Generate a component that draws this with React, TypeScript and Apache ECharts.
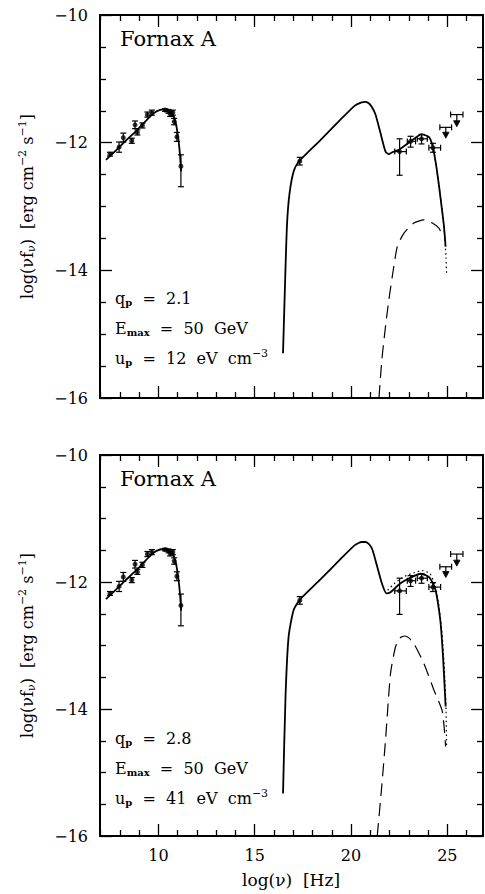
import React, { useEffect, useRef } from "react";
import * as echarts from "echarts";

// ---------- data ----------
const radioX = [7.49, 7.96, 8.18, 8.62, 8.79, 8.91, 9.17, 9.43, 9.66, 10.35, 10.53, 10.61, 10.75, 10.82, 10.96, 11.17];
const radioY = [-12.18, -12.07, -11.92, -11.97, -11.72, -11.84, -11.73, -11.56, -11.53, -11.49, -11.51, -11.55, -11.53, -11.67, -11.91, -12.37];
const radioErrUp = [0.03, 0.08, 0.07, 0.04, 0.06, 0.04, 0.04, 0.04, 0.04, 0.02, 0.03, 0.04, 0.04, 0.05, 0.07, 0.18];
const radioErrDown = [0.03, 0.08, 0.07, 0.04, 0.06, 0.04, 0.04, 0.04, 0.04, 0.02, 0.03, 0.04, 0.04, 0.05, 0.07, 0.32];

const xrayX = [17.34];
const xrayY = [-12.29];
const xrayErr = [0.06];

const gammaX = [22.52, 23.09, 23.66, 24.25];
const gammaY = [-12.14, -11.98, -11.94, -12.08];
const gammaYLo = [-12.51, -12.07, -12.02, -12.15];
const gammaYHi = [-11.94, -11.9, -11.87, -12.01];
const gammaXLo = [22.27, 22.92, 23.44, 24.04];
const gammaXHi = [22.87, 23.35, 23.96, 24.65];

const ulX = [24.92, 25.49];
const ulY = [-11.76, -11.56];
const ulXLo = [24.61, 25.17];
const ulXHi = [25.22, 25.81];
const ulArrowEnd = [-11.93, -11.75];

const radioCurveX = [7.28, 7.8, 8.3, 8.8, 9.22, 9.6, 9.9, 10.26, 10.55, 10.75, 10.88, 10.98, 11.06, 11.13, 11.18];
const radioCurveY = [-12.27, -12.12, -11.97, -11.83, -11.7, -11.58, -11.51, -11.48, -11.5, -11.56, -11.66, -11.82, -12.0, -12.22, -12.45];

const icTopX = [16.47, 16.59, 16.68, 16.81, 17.02, 17.28, 18.41, 19.45, 20.2, 20.55, 20.75, 20.95, 21.12, 21.27, 21.53, 21.79, 21.96, 22.14, 22.48, 23.09, 23.66, 24.04, 24.22, 24.39, 24.56, 24.7, 24.82, 24.91];
const icTopY = [-15.3, -14.05, -13.26, -12.79, -12.45, -12.3, -11.96, -11.64, -11.42, -11.37, -11.36, -11.39, -11.46, -11.56, -11.85, -12.14, -12.18, -12.15, -12.11, -11.98, -11.87, -11.91, -12.04, -12.3, -12.66, -13.0, -13.3, -13.63];
const pionTopX = [21.45, 21.6, 21.8, 21.96, 22.14, 22.4, 22.74, 23.26, 23.78, 24.22, 24.56, 24.7];
const pionTopY = [-16.0, -15.4, -14.85, -14.47, -14.1, -13.63, -13.42, -13.26, -13.21, -13.26, -13.34, -13.42];
const totalTopX = [24.3, 24.45, 24.6, 24.75, 24.87, 24.93, 24.96];
const totalTopY = [-12.12, -12.42, -12.75, -13.1, -13.5, -13.8, -14.05];

const icBotX = [16.47, 16.6, 16.76, 17.02, 17.34, 18.41, 19.45, 20.2, 20.55, 20.75, 20.95, 21.12, 21.36, 21.6, 21.84, 22.05, 22.57, 23.1, 23.61, 24.04, 24.25, 24.39, 24.52, 24.65, 24.78, 24.91];
const icBotY = [-15.33, -13.8, -12.86, -12.44, -12.28, -11.96, -11.64, -11.42, -11.37, -11.37, -11.41, -11.5, -11.76, -12.02, -12.18, -12.16, -12.02, -11.93, -11.87, -11.92, -12.02, -12.13, -12.35, -12.65, -13.2, -13.96];
const pionBotX = [21.36, 21.6, 21.79, 22.05, 22.31, 22.55, 22.78, 23.0, 23.26, 23.78, 24.3, 24.74, 24.91];
const pionBotY = [-16.0, -15.2, -14.49, -13.44, -13.02, -12.88, -12.85, -12.88, -12.97, -13.28, -13.7, -14.04, -14.59];
const totalBotX = [21.9, 22.3, 22.8, 23.3, 23.7, 24.1, 24.35, 24.55, 24.72, 24.85, 24.93, 24.96];
const totalBotY = [-12.13, -12.01, -11.91, -11.85, -11.82, -11.87, -12.04, -12.35, -12.8, -13.4, -14.0, -14.6];

const xMajorTicks = [10, 15, 20, 25];
const xMinorTicks = [7, 8, 9, 11, 12, 13, 14, 16, 17, 18, 19, 21, 22, 23, 24, 26];
const yMin = -16;
const yMax = -10;
const yStep = 2;

const panelLabels = [
  { q: "2.1", e: "50", u: "12" },
  { q: "2.8", e: "50", u: "41" },
];

// ---------- layout ----------
const FONT = "DejaVu Serif";
const X_MIN = 6.97;
const X_MAX = 26.85;
const GRIDS = [
  { left: 100, top: 15, width: 383, height: 383 },
  { left: 100, top: 455, width: 383, height: 381 },
];

const zip = (a: number[], b: number[]) => a.map((v, i) => [v, b[i]]);

const STROKE = { stroke: "#000", lineWidth: 1.2 };
const CAP = 3;

function errItem(_params: any, api: any) {
  const x = api.value(0);
  const y = api.value(1);
  const ylo = api.value(2);
  const yhi = api.value(3);
  const xlo = api.value(4);
  const xhi = api.value(5);
  const ch: any[] = [];
  if (yhi !== ylo) {
    const a = api.coord([x, ylo]);
    const b = api.coord([x, yhi]);
    ch.push({ type: "line", shape: { x1: a[0], y1: a[1], x2: b[0], y2: b[1] }, style: STROKE });
    ch.push({ type: "line", shape: { x1: a[0] - CAP, y1: a[1], x2: a[0] + CAP, y2: a[1] }, style: STROKE });
    ch.push({ type: "line", shape: { x1: b[0] - CAP, y1: b[1], x2: b[0] + CAP, y2: b[1] }, style: STROKE });
  }
  if (xhi !== xlo) {
    const a = api.coord([xlo, y]);
    const b = api.coord([xhi, y]);
    ch.push({ type: "line", shape: { x1: a[0], y1: a[1], x2: b[0], y2: b[1] }, style: STROKE });
    ch.push({ type: "line", shape: { x1: a[0], y1: a[1] - CAP, x2: a[0], y2: a[1] + CAP }, style: STROKE });
    ch.push({ type: "line", shape: { x1: b[0], y1: b[1] - CAP, x2: b[0], y2: b[1] + CAP }, style: STROKE });
  }
  return { type: "group", children: ch };
}

function ulItem(_params: any, api: any) {
  const x = api.value(0);
  const y = api.value(1);
  const xlo = api.value(2);
  const xhi = api.value(3);
  const yEnd = api.value(4);
  const a = api.coord([xlo, y]);
  const b = api.coord([xhi, y]);
  const c = api.coord([x, y]);
  const e = api.coord([x, yEnd]);
  return {
    type: "group",
    children: [
      { type: "line", shape: { x1: a[0], y1: a[1], x2: b[0], y2: b[1] }, style: STROKE },
      { type: "line", shape: { x1: a[0], y1: a[1] - CAP, x2: a[0], y2: a[1] + CAP }, style: STROKE },
      { type: "line", shape: { x1: b[0], y1: b[1] - CAP, x2: b[0], y2: b[1] + CAP }, style: STROKE },
      { type: "line", shape: { x1: c[0], y1: c[1], x2: e[0], y2: e[1] - 4 }, style: STROKE },
      {
        type: "polygon",
        shape: { points: [[e[0] - 3.2, e[1] - 6], [e[0] + 3.2, e[1] - 6], [e[0], e[1]]] },
        style: { fill: "#000", stroke: "#000", lineWidth: 0.8 },
      },
    ],
  };
}

function buildOption() {
  const xAxis: any[] = [];
  const yAxis: any[] = [];
  const series: any[] = [];
  const graphic: any[] = [];

  const lineStyleAxis = { color: "#000", width: 2 };
  const tickStyle = { color: "#000", width: 1.3 };

  GRIDS.forEach((_, g) => {
    const base = {
      type: "value",
      gridIndex: g,
      min: X_MIN,
      max: X_MAX,
      splitLine: { show: false },
      axisLabel: { show: false },
    };
    xAxis.push({
      ...base,
      position: "bottom",
      axisLine: { show: true, onZero: false, lineStyle: lineStyleAxis },
      axisTick: { show: true, inside: true, length: 12, customValues: xMajorTicks, lineStyle: tickStyle },
      axisLabel:
        g === 1
          ? { show: true, customValues: xMajorTicks, fontFamily: FONT, fontSize: 16, color: "#000", margin: 11 }
          : { show: false },
    });
    xAxis.push({
      ...base,
      position: "bottom",
      axisLine: { show: false, onZero: false },
      axisTick: { show: true, inside: true, length: 6, customValues: xMinorTicks, lineStyle: tickStyle },
    });
    xAxis.push({
      ...base,
      position: "top",
      axisLine: { show: true, onZero: false, lineStyle: lineStyleAxis },
      axisTick: { show: true, inside: true, length: 12, customValues: xMajorTicks, lineStyle: tickStyle },
    });
    xAxis.push({
      ...base,
      position: "top",
      axisLine: { show: false, onZero: false },
      axisTick: { show: true, inside: true, length: 6, customValues: xMinorTicks, lineStyle: tickStyle },
    });

    const yBase = {
      type: "value",
      gridIndex: g,
      min: yMin,
      max: yMax,
      interval: yStep,
      splitLine: { show: false },
      minorSplitLine: { show: false },
      axisLine: { show: true, onZero: false, lineStyle: lineStyleAxis },
      axisTick: { show: true, inside: true, length: 12, lineStyle: tickStyle },
      minorTick: { show: true, splitNumber: 4, length: 6, lineStyle: tickStyle },
    };
    yAxis.push({
      ...yBase,
      position: "left",
      axisLabel: {
        show: true,
        fontFamily: FONT,
        fontSize: 16,
        color: "#000",
        margin: 12,
        formatter: (v: number) => (v < 0 ? "\u2212" + Math.abs(v) : String(v)),
      },
    });
    yAxis.push({ ...yBase, position: "right", axisLabel: { show: false } });

    const xi = g * 4;
    const yi = g * 2;
    const ic = g === 0 ? zip(icTopX, icTopY) : zip(icBotX, icBotY);
    const pion = g === 0 ? zip(pionTopX, pionTopY) : zip(pionBotX, pionBotY);
    const total = g === 0 ? zip(totalTopX, totalTopY) : zip(totalBotX, totalBotY);

    const lineBase = {
      type: "line",
      xAxisIndex: xi,
      yAxisIndex: yi,
      symbol: "none",
      smooth: 0.2,
      clip: true,
      silent: true,
    };
    series.push({ ...lineBase, name: "radio model", data: zip(radioCurveX, radioCurveY), lineStyle: { color: "#000", width: 1.8 } });
    series.push({ ...lineBase, name: "IC model", data: ic, lineStyle: { color: "#000", width: 1.8 } });
    series.push({ ...lineBase, name: "pion decay", data: pion, lineStyle: { color: "#000", width: 1.2, type: [13, 7] } });
    series.push({ ...lineBase, name: "total", data: total, lineStyle: { color: "#000", width: 1.2, type: [1.5, 3] } });

    series.push({
      type: "custom",
      xAxisIndex: xi,
      yAxisIndex: yi,
      renderItem: errItem,
      data: radioX.map((x, i) => [x, radioY[i], radioY[i] - radioErrDown[i], radioY[i] + radioErrUp[i], x, x]),
      silent: true,
    });
    series.push({
      type: "custom",
      xAxisIndex: xi,
      yAxisIndex: yi,
      renderItem: errItem,
      data: [
        ...xrayX.map((x, i) => [x, xrayY[i], xrayY[i] - xrayErr[i], xrayY[i] + xrayErr[i], x, x]),
        ...gammaX.map((x, i) => [x, gammaY[i], gammaYLo[i], gammaYHi[i], gammaXLo[i], gammaXHi[i]]),
      ],
      silent: true,
    });
    series.push({
      type: "custom",
      xAxisIndex: xi,
      yAxisIndex: yi,
      renderItem: ulItem,
      data: ulX.map((x, i) => [x, ulY[i], ulXLo[i], ulXHi[i], ulArrowEnd[i]]),
      silent: true,
    });
    series.push({
      type: "scatter",
      xAxisIndex: xi,
      yAxisIndex: yi,
      symbol: "circle",
      symbolSize: 5,
      itemStyle: { color: "#000" },
      data: [...zip(radioX, radioY), ...zip(xrayX, xrayY), ...zip(gammaX, gammaY)],
      silent: true,
    });

    const grid = GRIDS[g];
    graphic.push({
      type: "text",
      left: 120,
      top: grid.top + 13,
      style: { text: "Fornax A", fontFamily: FONT, fontSize: 21, fill: "#000" },
    });
    const lab = panelLabels[g];
    const rich = {
      a: { fontFamily: FONT, fontSize: 16, fill: "#000" },
      s: { fontFamily: FONT, fontSize: 10, fontWeight: "bold", fill: "#000", padding: [9, 0, 0, 0] },
      p: { fontFamily: FONT, fontSize: 11, fill: "#000", padding: [0, 0, 9, 0] },
    };
    const baseY = grid.top + 283;
    const lines = [
      `{a|q}{s|p}{a|  =  ${lab.q}}`,
      `{a|E}{s|max}{a|  =  ${lab.e}  GeV}`,
      `{a|u}{s|p}{a|  =  ${lab.u}  eV  cm}{p|\u22123}`,
    ];
    lines.forEach((t, k) => {
      graphic.push({
        type: "text",
        x: 115,
        y: baseY + k * 30,
        style: { text: t, rich, verticalAlign: "middle", align: "left" },
      });
    });
    graphic.push({
      type: "text",
      x: 27,
      y: grid.top + grid.height / 2,
      rotation: Math.PI / 2,
      style: {
        text: "{a|log(\u03bdf}{s|\u03bd}{a|)  [erg cm}{p|\u22122}{a| s}{p|\u22121}{a|]}",
        rich: {
          a: { fontFamily: FONT, fontSize: 16, fill: "#000" },
          s: { fontFamily: FONT, fontSize: 11, fill: "#000", padding: [8, 0, 0, 0] },
          p: { fontFamily: FONT, fontSize: 11, fill: "#000", padding: [0, 0, 9, 0] },
        },
        align: "center",
        verticalAlign: "middle",
      },
    });
  });

  graphic.push({
    type: "text",
    x: 291,
    y: 880,
    style: {
      text: "log(\u03bd)  [Hz]",
      fontFamily: FONT,
      fontSize: 17,
      fill: "#000",
      align: "center",
      verticalAlign: "middle",
    },
  });

  return {
    animation: false,
    backgroundColor: "#fff",
    grid: GRIDS.map((g) => ({ ...g, containLabel: false })),
    xAxis,
    yAxis,
    series,
    graphic,
  };
}

export default function App() {
  const ref = useRef<HTMLDivElement>(null);
  useEffect(() => {
    if (!ref.current) return;
    const chart = echarts.init(ref.current, null, { renderer: "svg" });
    chart.setOption(buildOption() as any);
    return () => chart.dispose();
  }, []);
  return (
    <div
      ref={ref}
      style={{ position: "fixed", left: 0, top: 0, width: 485, height: 894, background: "#fff" }}
    />
  );
}
